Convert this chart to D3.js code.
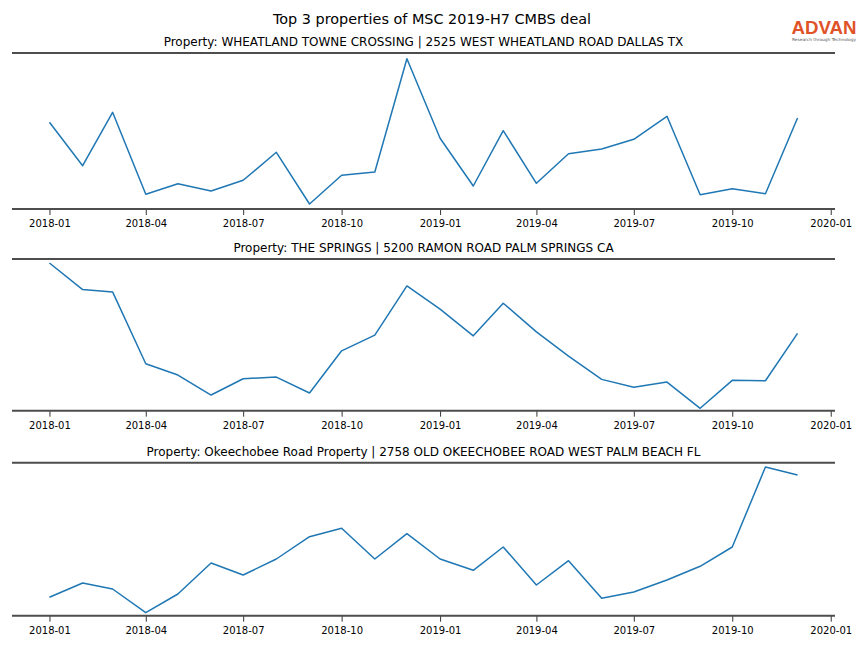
<!DOCTYPE html>
<html><head><meta charset="utf-8">
<script src="https://cdn.jsdelivr.net/npm/d3@7"></script>
<style>body{margin:0;background:#fff}svg{display:block}</style>
</head><body>
<script>
const months = ["2018-01","2018-02","2018-03","2018-04","2018-05","2018-06","2018-07","2018-08","2018-09","2018-10","2018-11","2018-12",
"2019-01","2019-02","2019-03","2019-04","2019-05","2019-06","2019-07","2019-08","2019-09","2019-10","2019-11","2019-12"];
const titles = ["Property: WHEATLAND TOWNE CROSSING | 2525 WEST WHEATLAND ROAD DALLAS TX",
"Property: THE SPRINGS | 5200 RAMON ROAD PALM SPRINGS CA",
"Property: Okeechobee Road Property | 2758 OLD OKEECHOBEE ROAD WEST PALM BEACH FL"];
const mainTitle = "Top 3 properties of MSC 2019-H7 CMBS deal";
const tickLabels = ["2018-01","2018-04","2018-07","2018-10","2019-01","2019-04","2019-07","2019-10","2020-01"];
const wheatland = [86.7,43.3,96.7,14.7,25.3,18,28.7,56.7,5,33.7,37,150.3,70.7,23,78.3,25.7,55.3,60,69.7,92.7,14.3,20.3,15.3,91];
const springs = [148,121.4,119,47,35.7,15.7,32,33.7,17.7,60,75.7,125,101.7,75,107.7,79,54.7,31.4,23.4,28.7,2.4,30.4,30,77.4];
const okeechobee = [18.4,32.7,26.7,3,21.7,52.7,40.7,56.7,79,87.4,56.7,82,56.7,45.4,68.7,30.7,55,17.4,23.7,35.7,49.4,68.7,148.7,140.7];
const yDomains = [[0,156],[0,152],[0,153]];
const series = [wheatland, springs, okeechobee];

const W = 864, H = 648;
const svg = d3.select("body").append("svg").attr("width", W).attr("height", H)
  .style("font-family", "'DejaVu Sans', sans-serif");

const parse = d3.timeParse("%Y-%m");
const dates = months.map(parse);
const pad = 35*864e5;
const x = d3.scaleTime()
  .domain([new Date(+dates[0]-pad), new Date(+dates[dates.length-1]+pad)])
  .range([12, 835]);

svg.append("text").attr("x", 432).attr("y", 24).attr("text-anchor","middle")
  .attr("font-size", 14.4).attr("fill","#000").text(mainTitle);

const panels = [{top:53,bottom:209},{top:259,bottom:410.7},{top:462.7,bottom:615.7}];

panels.forEach((p,i) => {
  const g = svg.append("g");
  const y = d3.scaleLinear().domain(yDomains[i]).range([p.bottom, p.top]);
  g.append("text").attr("x", 423.5).attr("y", p.top - 7).attr("text-anchor","middle")
    .attr("font-size", 12).attr("fill","#000").text(titles[i]);
  const line = d3.line().x((d,j)=>x(dates[j])).y(d=>y(d));
  g.append("path").datum(series[i]).attr("d", line).attr("fill","none")
    .attr("stroke","#1f77b4").attr("stroke-width",1.5).attr("stroke-linejoin","round");
  g.append("line").attr("x1",12).attr("x2",835).attr("y1",p.top).attr("y2",p.top)
    .attr("stroke","#4d4d4d").attr("stroke-width",2);
  const ax = d3.axisBottom(x).tickValues(tickLabels.map(parse))
    .tickFormat(d3.timeFormat("%Y-%m")).tickSize(6).tickPadding(5);
  const axg = g.append("g").attr("transform",`translate(0,${p.bottom})`).call(ax);
  axg.select(".domain").remove();
  axg.selectAll(".tick line").attr("stroke","#000").attr("stroke-width",0.8);
  axg.selectAll(".tick text").attr("font-size",10).attr("fill","#000")
    .style("font-family","'DejaVu Sans', sans-serif");
  g.append("line").attr("x1",12).attr("x2",835).attr("y1",p.bottom).attr("y2",p.bottom)
    .attr("stroke","#4d4d4d").attr("stroke-width",2);
});

// logo
const logo = svg.append("g");
logo.append("text").attr("x", 824).attr("y", 34).attr("text-anchor","middle")
  .attr("font-size", 18).attr("font-weight","bold").attr("font-family","'Liberation Sans', Arial, sans-serif")
  .attr("fill","#e05227").attr("textLength",65).attr("lengthAdjust","spacingAndGlyphs").text("ADVAN");
logo.append("text").attr("x", 824).attr("y", 40.5).attr("text-anchor","middle")
  .attr("font-size", 4).attr("fill","#555").attr("textLength",64).attr("lengthAdjust","spacingAndGlyphs")
  .text("Research through Technology");
</script>
</body></html>
